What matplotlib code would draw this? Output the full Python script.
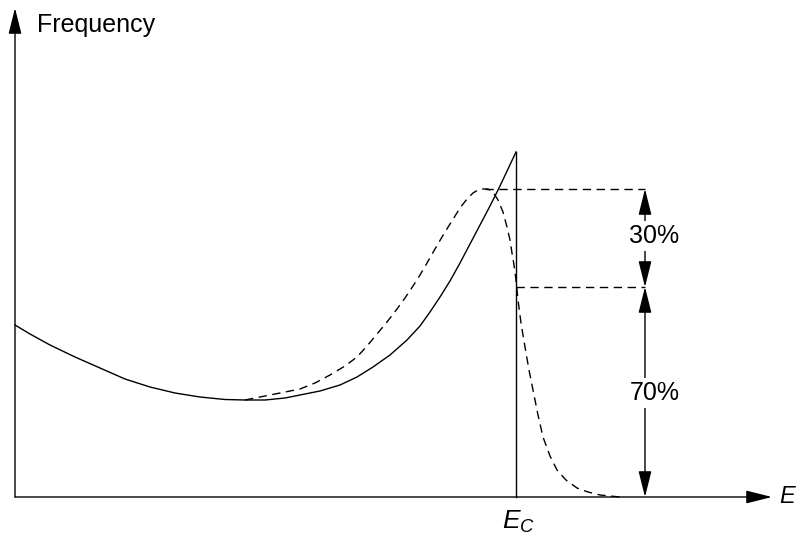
import matplotlib
matplotlib.use("Agg")
import matplotlib.pyplot as plt

plt.rcParams['font.family'] = ['Liberation Sans', 'DejaVu Sans']
plt.rcParams['mathtext.fontset'] = 'custom'
plt.rcParams['mathtext.it'] = 'Liberation Sans:italic'
plt.rcParams['mathtext.rm'] = 'Liberation Sans'

# Data (x: energy units, y: frequency units; origin at axes corner)
solid_x = [0, 15, 35, 60, 85, 110, 135, 160, 185, 210, 230, 250, 270, 285, 305, 325, 342,
           358, 375, 392, 405, 415, 425, 435, 445, 455, 465, 475, 485, 493, 501]
solid_y = [172, 163, 152, 140, 129, 118, 110, 104, 100, 97.5, 97, 97, 99, 102, 106, 112, 120,
           130, 142, 157, 171, 185, 200, 216, 234, 253, 272, 291, 311, 328, 345]

dashed_x = [230, 245, 265, 285, 300, 315, 330, 342, 352, 362, 372, 382, 390, 398, 405, 412,
            420, 427, 435, 445, 452, 458, 463, 468, 473, 478, 483, 488, 492, 495, 497, 499,
            501, 503, 506, 510, 514, 518, 523, 528, 535, 542, 551, 562, 573, 585, 605]
dashed_y = [97, 100, 104, 108, 114, 122, 131, 140, 151, 163, 175, 188, 199, 211, 222, 234,
            248, 260, 273, 289, 298, 304, 307, 308, 308, 305, 297, 285, 270, 257, 244, 232,
            217, 197, 174, 150, 127, 107, 82, 60, 41, 27, 17, 9, 5, 2, 0]

E_c = 501
level_peak = 308
level_split = 210
arrow_x = 630
labels_pct = ['30%', '70%']

fig = plt.figure(figsize=(7.97, 5.38), dpi=100)
ax = fig.add_axes([0, 0, 1, 1])
ax.set_xlim(-15, 782)
ax.set_ylim(-41, 497)
ax.axis('off')

lw = 1.0
ax.plot(solid_x, solid_y, color='black', lw=lw, solid_joinstyle='round')
ax.plot(dashed_x, dashed_y, color='black', lw=lw, ls=(0, (6, 4)))

# E_C vertical line
ax.plot([E_c, E_c], [0, solid_y[-1]], color='black', lw=lw)

# dashed horizontal guides
ax.plot([470, arrow_x], [level_peak, level_peak], color='black', lw=lw, ls=(0, (6, 4)))
ax.plot([E_c, arrow_x], [level_split, level_split], color='black', lw=lw, ls=(0, (6, 4)))

arrow_style = '-|>,head_length=16,head_width=4'

def arrow(p0, p1):
    ax.annotate('', xy=p1, xytext=p0,
                arrowprops=dict(arrowstyle=arrow_style, color='black', lw=lw,
                                shrinkA=0, shrinkB=0, mutation_scale=1))

# axes arrows
arrow((0, 0), (757, 0))
arrow((0, 0), (0, 489))

# double arrows
mid30 = (level_peak + level_split) / 2
arrow((arrow_x, mid30), (arrow_x, level_peak))
arrow((arrow_x, mid30), (arrow_x, level_split))
mid70 = level_split / 2
arrow((arrow_x, mid70), (arrow_x, level_split))
arrow((arrow_x, mid70), (arrow_x, 0))

ax.text(arrow_x + 9, mid30 + 2, labels_pct[0], fontsize=18, ha='center', va='center',
        bbox=dict(facecolor='white', edgecolor='none', pad=2))
ax.text(arrow_x + 10, mid70 - 1, labels_pct[1], fontsize=18, ha='center', va='center',
        bbox=dict(facecolor='white', edgecolor='none', pad=2))

ax.text(22, 472, 'Frequency', fontsize=18, ha='left', va='center')
ax.text(764, 0, '$E$', fontsize=17, ha='left', va='center')
ax.text(E_c + 3, -25, '$E_C$', fontsize=19, ha='center', va='center')

fig.savefig('out.png', dpi=100)
